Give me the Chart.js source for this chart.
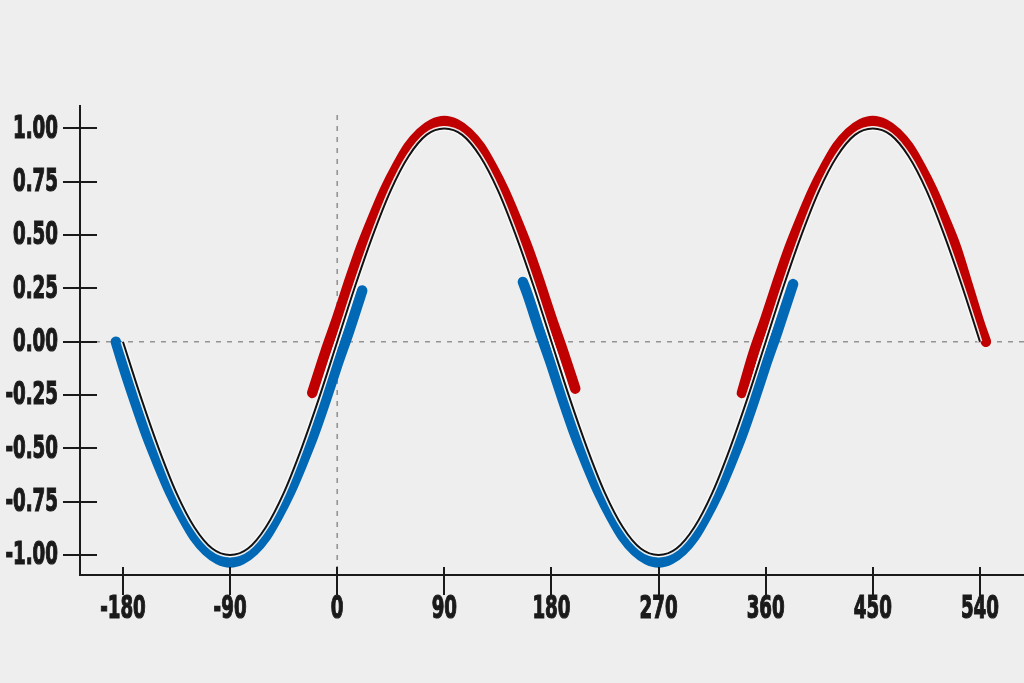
<!DOCTYPE html>
<html>
<head>
<meta charset="utf-8">
<script src="https://cdn.jsdelivr.net/npm/chart.js@4.4.1/dist/chart.umd.min.js"></script>
<style>
  html, body { margin: 0; padding: 0; background: #eeeeee; }
  #wrap { width: 1024px; height: 683px; }
</style>
</head>
<body>
<div id="wrap"><canvas id="chart" width="1024" height="683"></canvas></div>
<script>
// tick labels
const xTicks = [-180, -90, 0, 90, 180, 270, 360, 450, 540];
const yTicks = [-1, -0.75, -0.5, -0.25, 0, 0.25, 0.5, 0.75, 1];

// thin black sine curve, read every 15 degrees
const sineX = [-180, -165, -150, -135, -120, -105, -90, -75, -60, -45, -30, -15,
  0, 15, 30, 45, 60, 75, 90, 105, 120, 135, 150, 165,
  180, 195, 210, 225, 240, 255, 270, 285, 300, 315, 330, 345,
  360, 375, 390, 405, 420, 435, 450, 465, 480, 495, 510, 525, 540];
const sineY = [0, -0.26, -0.5, -0.71, -0.87, -0.97, -1, -0.97, -0.87, -0.71, -0.5, -0.26,
  0, 0.26, 0.5, 0.71, 0.87, 0.97, 1, 0.97, 0.87, 0.71, 0.5, 0.26,
  0, -0.26, -0.5, -0.71, -0.87, -0.97, -1, -0.97, -0.87, -0.71, -0.5, -0.26,
  0, 0.26, 0.5, 0.71, 0.87, 0.97, 1, 0.97, 0.87, 0.71, 0.5, 0.26, 0];

// red arcs (upper side)
const red1X = [-21, -10, 0, 10, 20, 30, 40, 50, 60, 70, 80, 90, 100, 110, 120, 130, 140, 150, 160, 170, 180, 190, 200];
const red1Y = [-0.24, -0.05, 0.11, 0.28, 0.44, 0.58, 0.71, 0.82, 0.915, 0.98, 1.02, 1.035, 1.02, 0.98, 0.915, 0.82, 0.71, 0.58, 0.44, 0.28, 0.11, -0.05, -0.22];
const red2X = [340, 350, 360, 370, 380, 390, 400, 410, 420, 430, 440, 450, 460, 470, 480, 490, 500, 510, 520, 530, 540, 545];
const red2Y = [-0.24, -0.05, 0.11, 0.28, 0.44, 0.58, 0.71, 0.82, 0.915, 0.98, 1.02, 1.035, 1.02, 0.98, 0.915, 0.82, 0.71, 0.58, 0.44, 0.26, 0.08, 0.0];

// blue arcs (lower side)
const blue1X = [-186, -180, -170, -160, -150, -140, -130, -120, -110, -100, -90, -80, -70, -60, -50, -40, -30, -20, -10, 0, 10, 21];
const blue1Y = [0.0, -0.11, -0.28, -0.44, -0.58, -0.71, -0.82, -0.915, -0.98, -1.02, -1.035, -1.02, -0.98, -0.915, -0.82, -0.71, -0.58, -0.44, -0.28, -0.11, 0.05, 0.24];
const blue2X = [156, 160, 170, 180, 190, 200, 210, 220, 230, 240, 250, 260, 270, 280, 290, 300, 310, 320, 330, 340, 350, 360, 370, 380, 383];
const blue2Y = [0.28, 0.22, 0.05, -0.11, -0.28, -0.44, -0.58, -0.71, -0.82, -0.915, -0.98, -1.02, -1.035, -1.02, -0.98, -0.915, -0.82, -0.71, -0.58, -0.44, -0.28, -0.11, 0.05, 0.22, 0.27];

const RED = '#c00000';
const BLUE = '#0068b5';
const FONT = '"DejaVu Sans Condensed", "Liberation Sans", sans-serif';

function pts(xs, ys) {
    return xs.map((x, i) => ({ x: x, y: ys[i] }));
}

function thick(xs, ys, color) {
    return {
        data: pts(xs, ys),
        borderColor: color,
        borderWidth: 10.5,
        borderCapStyle: 'round',
        borderJoinStyle: 'round',
        pointRadius: 0,
        cubicInterpolationMode: 'monotone',
        order: 3
    };
}

// squeezed bold text, to look like a condensed face
function label(c, text, x, y, align, sx) {
    const w = c.measureText(text).width * sx;
    let left = x - w / 2;
    if (align === 'right') left = x - w;
    c.save();
    c.translate(left, y);
    c.scale(sx, 1);
    c.textAlign = 'left';
    c.fillText(text, 0, 0);
    c.strokeText(text, 0, 0);
    c.restore();
}

// axes, ticks, labels and the dashed zero lines
const axesPlugin = {
    id: 'axes',
    beforeDatasetsDraw(chart) {
        const c = chart.ctx;
        const xs = chart.scales.x, ys = chart.scales.y;
        const a = chart.chartArea;
        c.save();
        c.strokeStyle = '#949494';
        c.lineWidth = 1.6;
        c.setLineDash([5, 6]);
        c.beginPath();
        const y0 = ys.getPixelForValue(0);
        c.moveTo(a.left + 4, y0);
        c.lineTo(a.right, y0);
        const x0 = xs.getPixelForValue(0);
        c.moveTo(x0, a.top + 10);
        c.lineTo(x0, a.bottom);
        c.stroke();
        c.restore();
    },
    afterDraw(chart) {
        const c = chart.ctx;
        const xs = chart.scales.x, ys = chart.scales.y;
        const a = chart.chartArea;
        c.save();
        c.strokeStyle = '#1a1a1a';
        c.lineWidth = 2;
        c.beginPath();
        c.moveTo(a.left, a.top);
        c.lineTo(a.left, a.bottom);
        c.lineTo(a.right, a.bottom);
        yTicks.forEach(v => {
            const p = Math.round(ys.getPixelForValue(v));
            c.moveTo(a.left - 17, p);
            c.lineTo(a.left + 17, p);
        });
        xTicks.forEach(v => {
            const p = Math.round(xs.getPixelForValue(v));
            c.moveTo(p, a.bottom - 8);
            c.lineTo(p, a.bottom + 20);
        });
        c.stroke();

        c.fillStyle = '#1a1a1a';
        c.strokeStyle = '#1a1a1a';
        c.lineWidth = 1.2;
        c.font = 'bold 32px ' + FONT;
        c.textBaseline = 'middle';
        const sx = 45 / c.measureText('1.00').width;
        yTicks.forEach(v => {
            label(c, v.toFixed(2), a.left - 22, ys.getPixelForValue(v) + 1, 'right', sx);
        });
        xTicks.forEach(v => {
            label(c, String(v), xs.getPixelForValue(v), a.bottom + 35, 'center', sx);
        });
        c.restore();
    }
};

const ctx = document.getElementById('chart').getContext('2d');
const chart = new Chart(ctx, {
    type: 'line',
    data: {
        datasets: [
            {
                data: pts(sineX, sineY),
                borderColor: '#111111',
                borderWidth: 2,
                pointRadius: 0,
                cubicInterpolationMode: 'monotone',
                order: 1
            },
            {
                data: pts(sineX, sineY),
                borderColor: 'rgba(250,250,250,0.9)',
                borderWidth: 5,
                pointRadius: 0,
                cubicInterpolationMode: 'monotone',
                order: 2
            },
            thick(red1X, red1Y, RED),
            thick(red2X, red2Y, RED),
            thick(blue1X, blue1Y, BLUE),
            thick(blue2X, blue2Y, BLUE)
        ]
    },
    options: {
        responsive: false,
        animation: false,
        layout: { padding: { left: 80, top: 105, right: 0, bottom: 108 } },
        plugins: { legend: { display: false }, tooltip: { enabled: false } },
        scales: {
            x: { type: 'linear', min: -216.1, max: 577, display: false },
            y: { type: 'linear', min: -1.094, max: 1.11, display: false }
        }
    },
    plugins: [axesPlugin]
});
</script>
</body>
</html>
